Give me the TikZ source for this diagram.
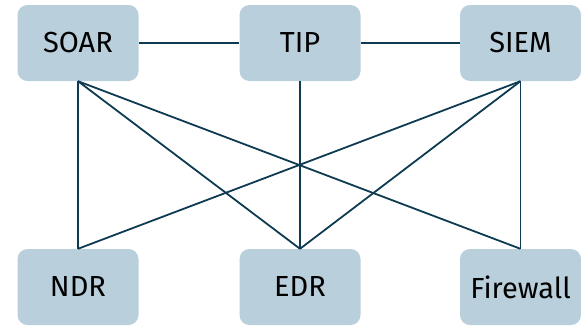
\documentclass[tikz,border=0pt]{standalone}
\usepackage{fontspec}
\setmainfont{Fira Sans}
\definecolor{boxfill}{HTML}{B9CFDC}
\definecolor{linkcol}{HTML}{0E3A52}
\begin{document}
\begin{tikzpicture}[x=1pt,y=-1pt,
  sysbox/.style={rectangle, rounded corners=10pt, fill=boxfill, draw=none,
    minimum width=121pt, minimum height=76pt, inner sep=0pt,
    font=\fontsize{29}{32}\selectfont, text=black},
  link/.style={draw=linkcol, line width=1.8pt}]
\useasboundingbox (0,0) rectangle (581,325);
\node[sysbox] (soar) at (78,43) {SOAR};
\node[sysbox] (tip) at (300,43) {TIP};
\node[sysbox] (siem) at (520.5,43) {SIEM};
\node[sysbox] (ndr) at (78,287) {NDR};
\node[sysbox] (edr) at (300,287) {EDR};
\node[sysbox] (fw) at (520.5,287) {Firewall};
\draw[link] (soar.east) -- (tip.west);
\draw[link] (tip.east) -- (siem.west);
\draw[link] (soar.south) -- (ndr.north);
\draw[link] (soar.south) -- (edr.north);
\draw[link] (soar.south) -- (fw.north);
\draw[link] (siem.south) -- (ndr.north);
\draw[link] (siem.south) -- (edr.north);
\draw[link] (siem.south) -- (fw.north);
\draw[link] (tip.south) -- (edr.north);
\end{tikzpicture}
\end{document}
